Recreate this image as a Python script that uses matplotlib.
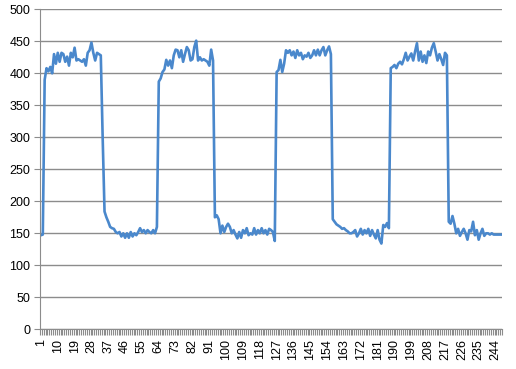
import matplotlib
matplotlib.use("Agg")
import matplotlib.pyplot as plt
from matplotlib.ticker import FixedLocator, MultipleLocator

plt.rcParams['font.family'] = ['Liberation Sans', 'DejaVu Sans']

# readings, one per sample (1..248)
start = [147, 148]
high_1 = [390, 408, 403, 410, 400, 430, 415, 432, 418, 432, 430, 418, 426, 412, 432,
          425, 440, 420, 422, 420, 418, 422, 412, 432, 436, 448, 432, 420, 432, 430, 428]
low_1 = [300, 184, 175, 168, 160, 158, 157, 152, 150, 152, 145, 150, 143, 150, 143,
         152, 145, 150, 147, 152, 158, 152, 155, 150, 155, 152, 150, 155, 150, 160]
high_2 = [387, 392, 402, 406, 421, 412, 420, 408, 428, 437, 436, 425, 436, 418, 430,
          441, 436, 420, 422, 441, 451, 420, 425, 420, 422, 420, 418, 412, 437, 420]
low_2 = [175, 178, 172, 150, 162, 152, 160, 165, 160, 150, 155, 148, 142, 152, 143,
         155, 150, 158, 147, 150, 148, 158, 148, 155, 150, 158, 150, 155, 148, 157,
         155, 152, 138]
high_3 = [402, 405, 421, 402, 415, 436, 432, 436, 428, 434, 424, 436, 428, 432, 422,
          428, 426, 432, 424, 428, 436, 428, 437, 428, 436, 441, 428, 436, 442, 430]
low_3 = [172, 168, 164, 162, 160, 157, 158, 155, 153, 150, 150, 152, 155, 145, 150,
         157, 148, 155, 150, 157, 146, 155, 148, 142, 155, 140, 134, 163, 160, 166, 158]
high_4 = [408, 410, 413, 408, 415, 418, 414, 422, 432, 420, 426, 431, 420, 434, 447,
          420, 434, 418, 428, 416, 434, 428, 440, 447, 434, 420, 430, 422, 413, 432, 428]
low_4 = [168, 165, 177, 165, 150, 157, 146, 152, 157, 150, 140, 155, 153, 168, 147,
         155, 140, 150, 157, 146, 150, 150, 148, 150, 148, 148, 148, 148, 148]

values = start + high_1 + low_1 + high_2 + low_2 + high_3 + low_3 + high_4 + low_4
samples = list(range(1, len(values) + 1))
label_ticks = list(range(1, len(values) + 1, 9))

fig = plt.figure(figsize=(5.16, 3.69), dpi=100)
ax = fig.add_axes([0.0775, 0.1076, 0.8955, 0.8672])

ax.plot(samples, values, color='#4a88cc', linewidth=1.9, solid_joinstyle='round')

ax.set_ylim(0, 500)
ax.set_xlim(0.5, len(values) + 0.5)
ax.yaxis.set_major_locator(MultipleLocator(50))
ax.grid(axis='y', color='#8c8c8c', linewidth=1)
ax.set_axisbelow(True)

ax.xaxis.set_major_locator(FixedLocator(label_ticks))
ax.xaxis.set_minor_locator(FixedLocator([s + 0.5 for s in range(0, len(values) + 1)]))
ax.set_xticklabels([str(t) for t in label_ticks], rotation=90)
ax.tick_params(axis='x', which='major', length=0, pad=7, labelsize=9)
ax.tick_params(axis='x', which='minor', length=4, color='#8c8c8c', width=0.8)
ax.tick_params(axis='y', length=4, color='#8c8c8c', labelsize=9, pad=3)

for side in ['top', 'right']:
    ax.spines[side].set_visible(False)
for side in ['left', 'bottom']:
    ax.spines[side].set_color('#8c8c8c')

fig.savefig('out.png', dpi=100)
plt.close(fig)
